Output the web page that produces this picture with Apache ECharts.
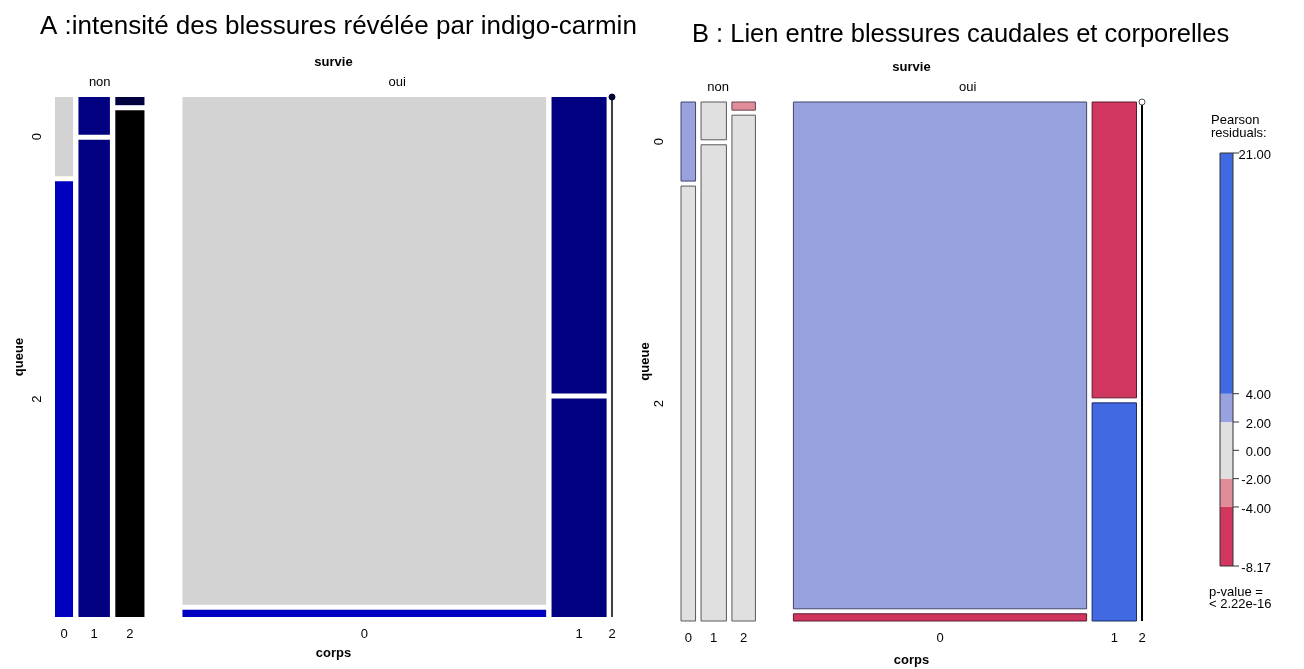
<!DOCTYPE html>
<html><head><meta charset="utf-8">
<script src="https://cdn.jsdelivr.net/npm/echarts@6/dist/echarts.min.js"></script>
<style>html,body{margin:0;padding:0;background:#fff}#c{width:1304px;height:669px}</style>
</head><body><div id="c"></div>
<script>
// ---------------- DATA ----------------
const survieLevels = ['non', 'oui'];
const corpsLevels = ['0', '1', '2'];
const queueLevels = ['0', '2'];
// counts[corps][queue] for each survie level
const countsNon = [[12, 66], [10, 126], [2, 124]];
const countsOui = [[1550, 22], [137, 101], [0, 0]];
const legendTicks = [21.00, 4.00, 2.00, 0.00, -2.00, -4.00, -8.17];
const legendBreaks = [-8.17, -4, -2, 2, 4, 21];
const pValueLabel = '< 2.22e-16';
const titleA = 'A :intensité des blessures révélée par indigo-carmin';
const titleB = 'B : Lien entre blessures caudales et corporelles';

// ---------------- STYLE ----------------
const FONT = '"Liberation Sans", Arial, sans-serif';
const colorsA = [
  [['#d3d3d3', '#0000c0'], ['#000080', '#000080'], ['#000040', '#000000']],
  [['#d3d3d3', '#0000c0'], ['#000080', '#000080'], ['#000040', '#000000']]
];
const shadeColors = ['#d0365e', '#e08d99', '#e0e0e0', '#97a2df', '#4169e1'];
const shadeBorders = ['#5e1a2c', '#6a4248', '#5a5a5a', '#40466a', '#1b2c62'];

const table = [countsNon, countsOui];

function layout(wPx, hPx, gapS, gapC, gapQ) {
  const S = table.length, C = corpsLevels.length, Q = queueLevels.length;
  let N = 0;
  table.forEach(t => t.forEach(r => r.forEach(v => N += v)));
  const W = wPx - gapS * (S - 1) - gapC * (C - 1) * S;
  const H = hPx - gapQ * (Q - 1);
  const cells = [], cols = [], groups = [];
  let x = 0;
  for (let s = 0; s < S; s++) {
    const gx0 = x;
    for (let c = 0; c < C; c++) {
      const nsc = table[s][c].reduce((a, b) => a + b, 0);
      const w = nsc / N * W;
      cols.push({ s, c, x0: x, x1: x + w, n: nsc });
      let y = 0;
      for (let q = 0; q < Q; q++) {
        const h = nsc > 0 ? table[s][c][q] / nsc * H : 0;
        cells.push({ s, c, q, x0: x, x1: x + w, y0: y, y1: y + h, n: table[s][c][q] });
        y += h + gapQ;
      }
      x += w;
      if (c < C - 1) x += gapC;
    }
    groups.push({ x0: gx0, x1: x });
    if (s < S - 1) x += gapS;
  }
  return { cells, cols, groups, wPx, hPx };
}

// Pearson residuals, model: corps independent of queue given survie
function residual(s, c, q) {
  const t = table[s];
  const ns = t.reduce((a, r) => a + r[0] + r[1], 0);
  const nsc = t[c][0] + t[c][1];
  const nsq = t.reduce((a, r) => a + r[q], 0);
  const e = nsc * nsq / ns;
  return e > 0 ? (t[c][q] - e) / Math.sqrt(e) : 0;
}
function shadeIndex(r) {
  if (r > 4) return 4;
  if (r > 2) return 3;
  if (r >= -2) return 2;
  if (r >= -4) return 1;
  return 0;
}

const PA = { left: 55, top: 97, w: 557, h: 520 };
const PB = { left: 681, top: 102, w: 461, h: 519 };
const LA = layout(PA.w, PA.h, 38, 5.4, 5);
const LB = layout(PB.w, PB.h, 38, 5.5, 5);

function labelItems(L, off) {
  const items = [];
  const first = L.cols[0];
  items.push({ x: L.wPx / 2, y: 0, dx: 0, dy: off.surv, text: 'survie', bold: true });
  L.groups.forEach((g, i) => items.push({ x: (g.x0 + g.x1) / 2, y: 0, dx: 0, dy: off.lev, text: survieLevels[i] }));
  L.cols.forEach(c => items.push({ x: (c.x0 + c.x1) / 2, y: L.hPx, dx: 0, dy: off.bot, text: corpsLevels[c.c] }));
  items.push({ x: L.wPx / 2, y: L.hPx, dx: 0, dy: off.corps, text: 'corps', bold: true });
  L.cells.filter(c => c.s === first.s && c.c === first.c).forEach(c =>
    items.push({ x: 0, y: (c.y0 + c.y1) / 2, dx: off.left, dy: 0, text: queueLevels[c.q], rot: true }));
  items.push({ x: 0, y: L.hPx / 2, dx: off.queue, dy: 0, text: 'queue', bold: true, rot: true });
  return items;
}
const labA = labelItems(LA, { surv: -35, lev: -15, bot: 17, corps: 36, left: -18, queue: -36 });
const labB = labelItems(LB, { surv: -35, lev: -15, bot: 17, corps: 39, left: -22, queue: -36 });

function textSeries(items, xi) {
  return {
    type: 'custom', xAxisIndex: xi, yAxisIndex: xi, silent: true, clip: false,
    data: items.map(it => [it.x, it.y]),
    encode: { x: 0, y: 1 },
    renderItem: function (params, api) {
      const it = items[params.dataIndex];
      const p = api.coord([api.value(0), api.value(1)]);
      return {
        type: 'text', x: p[0] + it.dx, y: p[1] + it.dy, rotation: it.rot ? Math.PI / 2 : 0,
        style: { text: it.text, fill: '#000', font: (it.bold ? 'bold ' : '') + '13px ' + FONT,
                 align: 'center', verticalAlign: 'middle' }
      };
    }
  };
}

function cellSeries(L, xi, styleFn) {
  const cells = L.cells.filter(c => c.x1 - c.x0 > 0 && c.y1 - c.y0 > 0);
  return {
    type: 'custom', xAxisIndex: xi, yAxisIndex: xi, silent: true,
    data: cells.map(c => [c.x0, c.x1, c.y0, c.y1]),
    encode: { x: [0, 1], y: [2, 3] },
    renderItem: function (params, api) {
      const c = cells[params.dataIndex];
      const p0 = api.coord([api.value(0), api.value(2)]);
      const p1 = api.coord([api.value(1), api.value(3)]);
      return { type: 'rect', shape: { x: p0[0], y: p0[1], width: p1[0] - p0[0], height: p1[1] - p0[1] },
               style: styleFn(c) };
    }
  };
}

function zeroSeries(L, xi, dotStyle, lw) {
  const cols = L.cols.filter(c => c.n === 0);
  return {
    type: 'custom', xAxisIndex: xi, yAxisIndex: xi, silent: true, clip: false,
    data: cols.map(c => [c.x0, 0, L.hPx]),
    encode: { x: 0, y: [1, 2] },
    renderItem: function (params, api) {
      const pt = api.coord([api.value(0), api.value(1)]);
      const pb = api.coord([api.value(0), api.value(2)]);
      return { type: 'group', children: [
        { type: 'line', shape: { x1: pt[0], y1: pt[1] + 3, x2: pb[0], y2: pb[1] }, style: { stroke: '#000', lineWidth: lw } },
        { type: 'circle', shape: { cx: pt[0], cy: pt[1], r: 3 }, style: dotStyle }
      ] };
    }
  };
}

const lgMin = Math.min(...legendTicks), lgMax = Math.max(...legendTicks);
const bands = [];
for (let i = 0; i < legendBreaks.length - 1; i++) bands.push([legendBreaks[i], legendBreaks[i + 1], i]);
const legendTexts = [
  { y: lgMax, dx: -9, dy: -33, text: 'Pearson' },
  { y: lgMax, dx: -9, dy: -20, text: 'residuals:' },
  { y: lgMin, dx: -11, dy: 26, text: 'p-value =' },
  { y: lgMin, dx: -11, dy: 38, text: pValueLabel }
];

const option = {
  animation: false,
  backgroundColor: '#fff',
  title: [
    { text: titleA, left: 35, top: 9, textStyle: { fontSize: 26, fontWeight: 'normal', color: '#000', fontFamily: FONT } },
    { text: titleB, left: 687, top: 17, textStyle: { fontSize: 25.5, fontWeight: 'normal', color: '#000', fontFamily: FONT } }
  ],
  grid: [
    { left: PA.left, top: PA.top, width: PA.w, height: PA.h },
    { left: PB.left, top: PB.top, width: PB.w, height: PB.h },
    { left: 1220, top: 153, width: 13, height: 413 }
  ],
  xAxis: [
    { gridIndex: 0, type: 'value', min: 0, max: PA.w, show: false },
    { gridIndex: 1, type: 'value', min: 0, max: PB.w, show: false },
    { gridIndex: 2, type: 'value', min: 0, max: 1, show: false }
  ],
  yAxis: [
    { gridIndex: 0, type: 'value', min: 0, max: PA.h, inverse: true, show: false },
    { gridIndex: 1, type: 'value', min: 0, max: PB.h, inverse: true, show: false },
    { gridIndex: 2, type: 'value', min: lgMin, max: lgMax, show: false }
  ],
  series: [
    cellSeries(LA, 0, c => ({ fill: colorsA[c.s][c.c][c.q] })),
    zeroSeries(LA, 0, { fill: '#000033', stroke: '#000033', lineWidth: 1 }, 1.5),
    textSeries(labA, 0),
    cellSeries(LB, 1, c => { const k = shadeIndex(residual(c.s, c.c, c.q));
      return { fill: shadeColors[k], stroke: shadeBorders[k], lineWidth: 1 }; }),
    zeroSeries(LB, 1, { fill: '#fff', stroke: '#555', lineWidth: 1 }, 2),
    textSeries(labB, 1),
    {
      type: 'custom', xAxisIndex: 2, yAxisIndex: 2, silent: true,
      data: bands, encode: { y: [0, 1] },
      renderItem: function (params, api) {
        const p0 = api.coord([0, api.value(1)]);
        const p1 = api.coord([1, api.value(0)]);
        return { type: 'rect', shape: { x: p0[0], y: p0[1], width: p1[0] - p0[0], height: p1[1] - p0[1] },
                 style: { fill: shadeColors[api.value(2)] } };
      }
    },
    {
      type: 'custom', xAxisIndex: 2, yAxisIndex: 2, silent: true, clip: false,
      data: legendTicks.map(v => [1, v]), encode: { x: 0, y: 1 },
      renderItem: function (params, api) {
        const p = api.coord([1, api.value(1)]);
        const children = [
          { type: 'line', shape: { x1: p[0], y1: p[1], x2: p[0] + 6, y2: p[1] }, style: { stroke: '#333', lineWidth: 1 } },
          { type: 'text', x: p[0] + 38, y: p[1] + 2, style: { text: legendTicks[params.dataIndex].toFixed(2), fill: '#000',
            font: '13px ' + FONT, align: 'right', verticalAlign: 'middle' } }
        ];
        if (params.dataIndex === 0) {
          const a = api.coord([0, lgMax]), b = api.coord([1, lgMin]);
          children.push({ type: 'rect', shape: { x: a[0], y: a[1], width: b[0] - a[0], height: b[1] - a[1] },
                          style: { fill: 'none', stroke: '#333', lineWidth: 1 } });
        }
        return { type: 'group', children };
      }
    },
    {
      type: 'custom', xAxisIndex: 2, yAxisIndex: 2, silent: true, clip: false,
      data: legendTexts.map(t => [0, t.y]), encode: { x: 0, y: 1 },
      renderItem: function (params, api) {
        const t = legendTexts[params.dataIndex];
        const p = api.coord([0, api.value(1)]);
        return { type: 'text', x: p[0] + t.dx, y: p[1] + t.dy,
                 style: { text: t.text, fill: '#000', font: '13px ' + FONT, align: 'left', verticalAlign: 'middle' } };
      }
    }
  ]
};

const chart = echarts.init(document.getElementById('c'), null, { renderer: 'canvas' });
chart.setOption(option);
</script>
</body></html>
